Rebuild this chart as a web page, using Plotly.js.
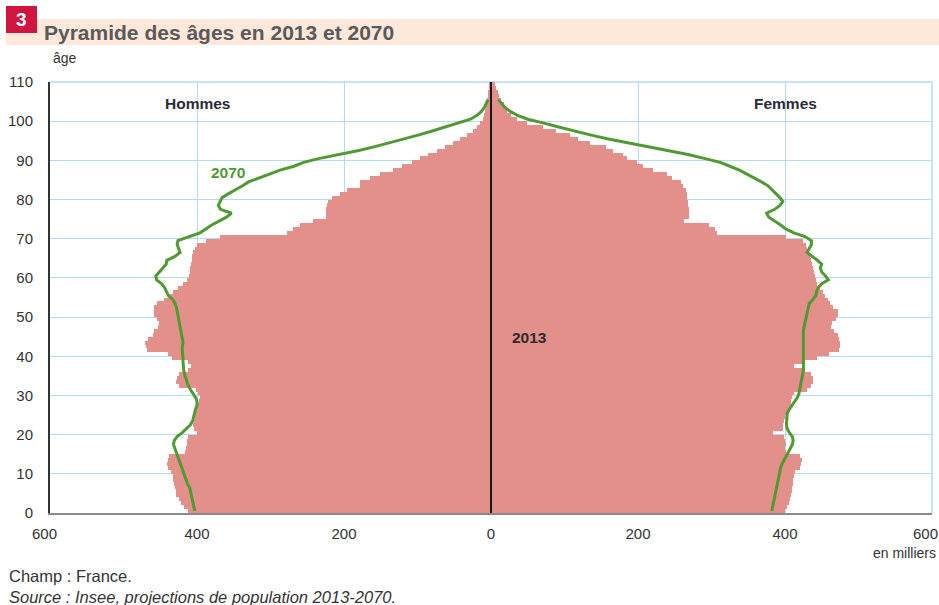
<!DOCTYPE html>
<html>
<head>
<meta charset="utf-8">
<script src="https://cdn.plot.ly/plotly-3.0.1.min.js"></script>
<style>
html,body{margin:0;padding:0;background:#fff;}
#chart{width:939px;height:605px;}
</style>
</head>
<body>
<div id="chart"></div>
<script>
// Ages (single years)
const ages2013 = Array.from({length: 110}, (_, i) => i);
const ages2070 = Array.from({length: 106}, (_, i) => i);

// 2013 population, thousands
const men2013 = [
412,418,422,425,428,429,430,431,432,433,
436,440,441,440,438,416,415,414,413,412,
400,404,405,404,403,401,400,399,397,396,
398,402,424,428,427,425,412,408,412,434,
440,468,470,471,466,460,458,453,452,454,
458,459,458,455,445,438,432,426,419,413,
411,410,409,408,407,407,405,403,400,388,
369,278,269,260,242,224,224,224,223,222,
217,205,196,178,178,165,151,133,121,108,
97,86,74,63,52,42,33,24,19,15,
11,9,8,7,6,5,4,4,3,3];
const women2013 = [
400,403,405,407,408,409,410,411,411,412,
414,420,422,423,421,401,400,401,400,399,
383,397,397,398,400,403,407,408,408,409,
412,430,436,438,438,436,427,412,427,443,
460,474,475,475,474,472,466,462,464,470,
472,472,465,461,458,454,452,448,444,442,
441,440,438,437,436,434,432,430,428,425,
402,307,305,296,262,270,270,269,268,268,
266,266,265,261,258,246,240,221,207,198,
185,180,166,157,135,119,107,89,71,49,
35,27,22,20,18,13,11,9,7,5];

// 2070 projection, thousands
const men2070 = [
403,404,405,406,407,408,410,413,415,417,
419,421,423,425,427,428,431,432,431,427,
420,414,409,406,405,404,402,400,400,402,
406,409,412,414,416,417,418,419,419,419,
420,420,420,419,420,421,422,423,424,425,
426,427,428,430,433,439,441,444,448,455,
456,451,446,442,441,430,423,425,427,426,
410,396,388,380,370,360,353,368,371,369,
366,357,347,338,330,315,300,287,268,255,
233,205,180,158,137,116,98,80,62,44,
28,19,13,9,6,4];
const women2070 = [
382,383,384,385,386,387,388,389,390,391,
392,394,396,399,402,405,408,410,411,410,
406,403,402,402,402,403,406,410,414,417,
419,420,422,423,424,425,425,425,425,424,
424,424,424,424,424,424,425,426,427,428,
429,430,432,433,438,442,443,445,450,459,
455,450,448,450,444,437,430,433,436,436,
428,412,401,394,386,378,375,386,393,397,
393,388,383,377,368,358,348,338,325,312,
290,268,240,212,185,158,135,112,92,72,
50,36,26,19,14,10];

const xTickVals = [-600,-400,-200,0,200,400,600];
const xTickText = ['600','400','200','0','200','400','600'];

const barColor = '#e4908a';
const lineColor = '#4f9a33';
const gridColor = '#b5dbf3';
const font = 'Liberation Sans, Arial, sans-serif';

const mid = a => a + 0.5;

const traces = [
  {type:'bar', orientation:'h', x: men2013.map(v => -v), y: ages2013.map(mid), width: 1,
   marker:{color: barColor, line:{width:0}}, hoverinfo:'skip'},
  {type:'bar', orientation:'h', x: women2013, y: ages2013.map(mid), width: 1,
   marker:{color: barColor, line:{width:0}}, hoverinfo:'skip'},
  {type:'scatter', mode:'lines', x: men2070.map(v => -v), y: ages2070.map(mid),
   line:{color: lineColor, width: 3}, hoverinfo:'skip'},
  {type:'scatter', mode:'lines', x: women2070, y: ages2070.map(mid),
   line:{color: lineColor, width: 3}, hoverinfo:'skip'}
];

// end tick labels drawn as annotations (slightly inset like the reference)
const innerTickText = xTickText.map((t, i) => (i === 0 || i === xTickText.length - 1) ? '' : t);

const layout = {
  width: 939, height: 605,
  margin: {l: 50, r: 7, t: 82, b: 92},
  paper_bgcolor: '#fff', plot_bgcolor: '#fff',
  showlegend: false, barmode: 'overlay', bargap: 0,
  hovermode: false,
  font: {family: font, color: '#333', size: 14},
  xaxis: {
    range: [-600, 600], tickvals: xTickVals, ticktext: innerTickText,
    showgrid: true, gridcolor: gridColor, gridwidth: 1,
    zeroline: false, showline: true, linecolor: '#8a8a8a', linewidth: 2,
    ticks: '', ticklabelstandoff: 6, tickfont: {size: 15, color: '#333'}, fixedrange: true
  },
  yaxis: {
    range: [0, 110], dtick: 10, tick0: 0,
    showgrid: true, gridcolor: gridColor, gridwidth: 1,
    zeroline: false, showline: true, linecolor: '#333', linewidth: 2,
    ticks: '', ticklabelstandoff: 12, tickfont: {size: 15, color: '#333'}, fixedrange: true
  },
  shapes: [
    {type:'rect', xref:'paper', yref:'paper', x0:(6-50)/882, x1:(939-50)/882,
     y0:(513-45)/431, y1:(513-19)/431, fillcolor:'#fde8da', line:{width:0}, layer:'below'},
    {type:'rect', xref:'paper', yref:'paper', x0:(6-50)/882, x1:(37-50)/882,
     y0:(513-33)/431, y1:(513-6)/431, fillcolor:'#cf1640', line:{width:0}, layer:'above'},
    {type:'line', xref:'paper', yref:'paper', x0:1, x1:1, y0:0, y1:1,
     line:{color:gridColor, width:1.5}, layer:'below'},
    {type:'line', xref:'paper', yref:'paper', x0:0, x1:1, y0:1, y1:1,
     line:{color:gridColor, width:1.5}, layer:'below'},
    {type:'line', xref:'x', yref:'paper', x0:0, x1:0, y0:0, y1:1,
     line:{color:'#1a1a1a', width:2}, layer:'above'}
  ],
  annotations: [
    {xref:'paper', yref:'paper', x:(21.5-50)/882, y:(513-19.5)/431, text:'<b>3</b>', showarrow:false,
     font:{size:19, color:'#fff', family: font}, xanchor:'center', yanchor:'middle'},
    {xref:'paper', yref:'paper', x:(42-50)/882, y:(513-32)/431, text:'<b>Pyramide des âges en 2013 et 2070</b>', showarrow:false,
     font:{size:21, color:'#5a5a5a', family: font}, xanchor:'left', yanchor:'middle'},
    {xref:'paper', yref:'paper', x:(51-50)/882, y:(513-58)/431, text:'âge', showarrow:false,
     font:{size:14, color:'#333', family: font}, xanchor:'left', yanchor:'middle'},
    {xref:'paper', yref:'paper', x:(44-50)/882, y:(513-533)/431, text:xTickText[0], showarrow:false,
     font:{size:15, color:'#333', family: font}, xanchor:'center', yanchor:'middle'},
    {xref:'paper', yref:'paper', x:(925-50)/882, y:(513-533)/431, text:xTickText[xTickText.length-1], showarrow:false,
     font:{size:15, color:'#333', family: font}, xanchor:'center', yanchor:'middle'},
    {xref:'x', yref:'y', x:-400, y:104.6, text:'<b>Hommes</b>', showarrow:false,
     font:{size:15.5, color:'#2b2b3a', family: font}, xanchor:'center', yanchor:'middle'},
    {xref:'x', yref:'y', x:400, y:104.6, text:'<b>Femmes</b>', showarrow:false,
     font:{size:15.5, color:'#2b2b3a', family: font}, xanchor:'center', yanchor:'middle'},
    {xref:'x', yref:'y', x:-358, y:87, text:'<b>2070</b>', showarrow:false,
     font:{size:15.5, color:lineColor, family: font}, xanchor:'center', yanchor:'middle'},
    {xref:'x', yref:'y', x:53, y:44.9, text:'<b>2013</b>', showarrow:false,
     font:{size:15.5, color:'#2b2b2b', family: font}, xanchor:'center', yanchor:'middle'},
    {xref:'paper', yref:'paper', x:(938-50)/882, y:(513-553)/431, text:'en milliers', showarrow:false,
     font:{size:14, color:'#333', family: font}, xanchor:'right', yanchor:'middle'},
    {xref:'paper', yref:'paper', x:(7-50)/882, y:(513-576)/431, text:'Champ : France.', showarrow:false,
     font:{size:16.5, color:'#333', family: font}, xanchor:'left', yanchor:'middle'},
    {xref:'paper', yref:'paper', x:(7-50)/882, y:(513-597)/431, text:'<i>Source : Insee, projections de population 2013-2070.</i>', showarrow:false,
     font:{size:16.5, color:'#333', family: font}, xanchor:'left', yanchor:'middle'}
  ]
};

Plotly.newPlot('chart', traces, layout, {staticPlot: true, displayModeBar: false});
</script>
</body>
</html>
